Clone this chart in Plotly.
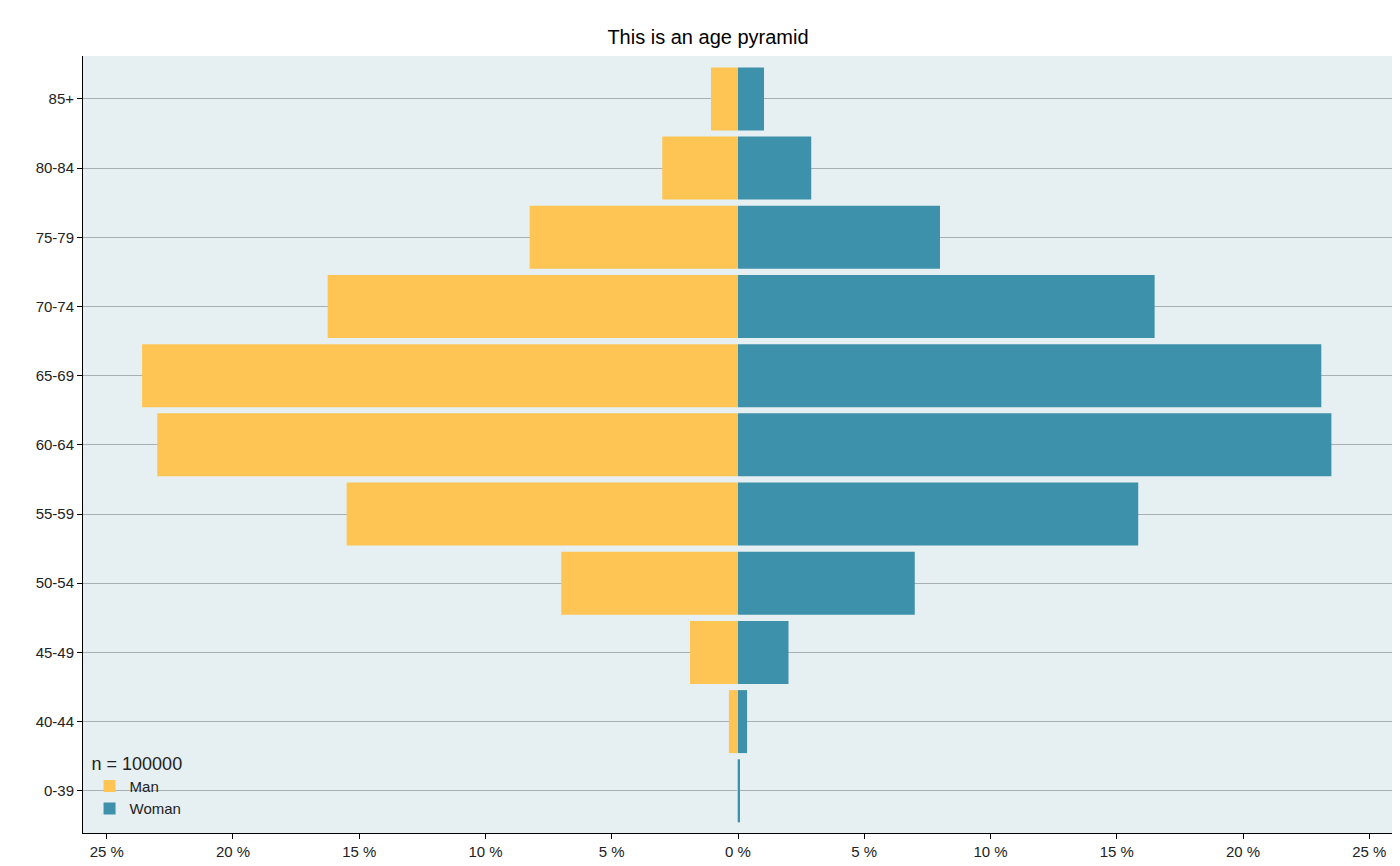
import plotly.graph_objects as go

age_groups = ['0-39', '40-44', '45-49', '50-54', '55-59', '60-64',
              '65-69', '70-74', '75-79', '80-84', '85+']
man_pct = [0.02, 0.36, 1.9, 7.0, 15.5, 23.0, 23.6, 16.25, 8.25, 3.0, 1.07]
woman_pct = [0.08, 0.36, 2.0, 7.0, 15.85, 23.5, 23.1, 16.5, 8.0, 2.9, 1.03]
tick_vals = [-25, -20, -15, -10, -5, 0, 5, 10, 15, 20, 25]
tick_text = ['25 %', '20 %', '15 %', '10 %', '5 %', '0 %', '5 %', '10 %', '15 %', '20 %', '25 %']

fig = go.Figure()
fig.add_trace(go.Bar(y=age_groups, x=[-v for v in man_pct], name='Man', orientation='h',
                     marker=dict(color='#FEC555', line_width=0), width=0.91))
fig.add_trace(go.Bar(y=age_groups, x=woman_pct, name='Woman', orientation='h',
                     marker=dict(color='#3E91AA', line_width=0), width=0.91))

fig.update_layout(
    barmode='overlay',
    width=1400, height=866,
    font=dict(family='Liberation Sans, Arial', size=15, color='#222'),
    title=dict(text='This is an age pyramid', x=0.5, xanchor='center', y=0.975,
               font=dict(size=20, color='black')),
    plot_bgcolor='#E6EFF2', paper_bgcolor='white',
    margin=dict(l=75, r=15, t=48, b=41),
    legend=dict(title=dict(text='n = 100000'), x=0.005, y=0.01, xanchor='left', yanchor='bottom',
                bgcolor='rgba(0,0,0,0)', tracegroupgap=0, itemsizing='constant',
                font=dict(size=15)),
    xaxis=dict(range=[-25.94, 25.94], tickvals=tick_vals, ticktext=tick_text,
               showgrid=False, zeroline=False, showline=True, linecolor='black',
               ticks='outside', ticklen=5, tickcolor='black'),
    yaxis=dict(range=[-0.61, 10.62], showgrid=True, gridcolor='#A9B0B3', gridwidth=1,
               showline=True, linecolor='black', ticks='outside', ticklen=5,
               tickcolor='black', categoryorder='array', categoryarray=age_groups),
)

fig.write_html("out.html")
